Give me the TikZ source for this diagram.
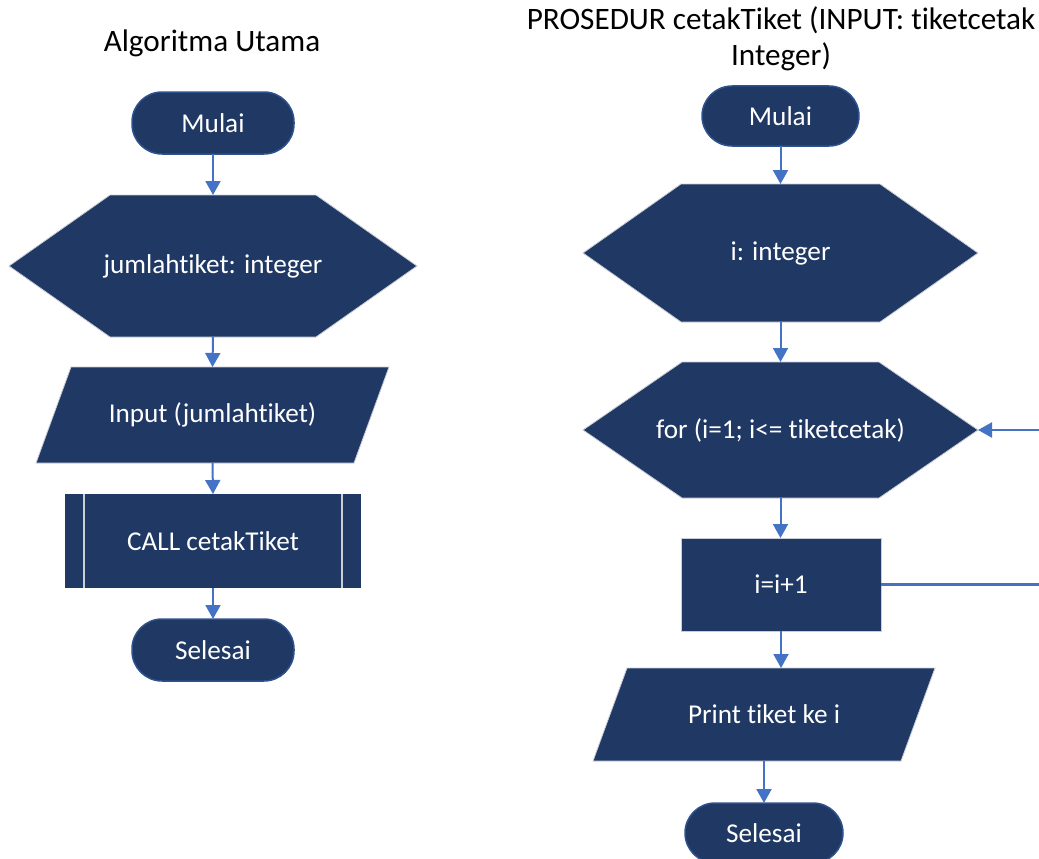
\documentclass[tikz,border=0pt]{standalone}
\usepackage{fontspec}
\setmainfont{Carlito}[Ligatures={NoCommon,NoRare,NoContextual}]
\usetikzlibrary{arrows.meta,calc}
\definecolor{navy}{HTML}{203864}
\definecolor{edgeblue}{HTML}{2F528F}
\definecolor{flowblue}{HTML}{4472C4}
\definecolor{rim}{HTML}{C9CDD6}
\pgfdeclarelayer{bg}
\pgfsetlayers{bg,main}
\tikzset{
  every node/.style={outer sep=0pt, inner sep=0pt},
  lbl/.style={text=white, font=\fontsize{27.2}{30}\selectfont},
  title/.style={text=black, font=\fontsize{31.2}{36}\selectfont, align=center},
  terminal/.style={lbl, fill=navy, draw=edgeblue, line width=1.5pt,
                   rounded corners=30pt, minimum width=#1},
  terminal/.default=162pt,
  box/.style n args={2}{lbl, minimum width=#1, minimum height=#2},
  shapefill/.style={fill=navy, draw=rim, line width=0.8pt},
  sidebar/.style={draw=rim, line width=1.6pt},
  flow/.style={draw=flowblue, line width=2pt, -{Triangle[length=14pt,width=15pt]}},
  loopline/.style={draw=flowblue, line width=2.2pt},
}
\begin{document}
\begin{tikzpicture}[x=1pt, y=-1pt]
  \clip (0,0) rectangle (1039,859);

  % ---------- titles ----------
  \node[title, anchor=base] (t1) at (212,52) {Algoritma Utama};
  \node[title, anchor=north] (t2) at (781,7) {PROSEDUR cetakTiket (INPUT: tiketcetak\\Integer)};

  % ---------- main algorithm ----------
  \node[terminal, minimum height=62pt] (start1) at (213,123) {Mulai};
  \node[box={408pt}{142pt}] (decl1) at (213,266) {jumlahtiket: integer};
  \node[box={353pt}{96pt}] (inp) at (212.5,415) {Input (jumlahtiket)};
  \node[box={296pt}{94pt}] (call) at (213,541) {CALL cetakTiket};
  \node[terminal, minimum height=62pt] (end1) at (213,650) {Selesai};

  % ---------- procedure ----------
  \node[terminal=157pt, minimum height=60pt] (start2) at (780.5,116) {Mulai};
  \node[box={395pt}{138pt}] (decl2) at (780.5,253) {i: integer};
  \node[box={395pt}{136pt}] (loop) at (780.5,430) {for (i=1; i<= tiketcetak)};
  \node[box={200pt}{93pt}] (inc) at (781,584.5) {i=i+1};
  \node[box={342pt}{93pt}] (prn) at (764,714.5) {Print tiket ke i};
  \node[terminal=158pt, minimum height=60pt] (end2) at (764,833) {Selesai};

  % ---------- shape bodies behind the labels ----------
  \begin{pgfonlayer}{bg}
    % preparation hexagons
    \filldraw[shapefill] (decl1.west) -- ([xshift=101pt]decl1.north west)
      -- ([xshift=-101pt]decl1.north east) -- (decl1.east)
      -- ([xshift=-101pt]decl1.south east) -- ([xshift=101pt]decl1.south west) -- cycle;
    \filldraw[shapefill] (decl2.west) -- ([xshift=98pt]decl2.north west)
      -- ([xshift=-98pt]decl2.north east) -- (decl2.east)
      -- ([xshift=-98pt]decl2.south east) -- ([xshift=98pt]decl2.south west) -- cycle;
    \filldraw[shapefill] (loop.west) -- ([xshift=99pt]loop.north west)
      -- ([xshift=-99pt]loop.north east) -- (loop.east)
      -- ([xshift=-99pt]loop.south east) -- ([xshift=99pt]loop.south west) -- cycle;
    % input / output parallelograms
    \filldraw[shapefill] (inp.south west) -- ([xshift=35pt]inp.north west)
      -- (inp.north east) -- ([xshift=-35pt]inp.south east) -- cycle;
    \filldraw[shapefill] (prn.south west) -- ([xshift=34pt]prn.north west)
      -- (prn.north east) -- ([xshift=-34pt]prn.south east) -- cycle;
    % predefined process
    \fill[navy] (call.south west) rectangle (call.north east);
    \draw[sidebar] ([xshift=19pt]call.north west) -- ([xshift=19pt]call.south west);
    \draw[sidebar] ([xshift=-19pt]call.north east) -- ([xshift=-19pt]call.south east);
    % process box
    \filldraw[shapefill] (inc.south west) rectangle (inc.north east);
  \end{pgfonlayer}

  % ---------- connectors ----------
  \draw[flow] (start1.south) -- (decl1.north);
  \draw[flow] (decl1.south) -- (inp.north);
  \draw[flow] (inp.south) -- (call.north);
  \draw[flow] (call.south) -- (end1.north);

  \draw[flow] (start2.south) -- (decl2.north);
  \draw[flow] (decl2.south) -- (loop.north);
  \draw[flow] (loop.south) -- (loop.south |- inc.north);
  \draw[flow] (inc.south) -- (inc.south |- prn.north);
  \draw[flow] (prn.south) -- (end2.north);

  % loop back to the for header
  \coordinate (back) at (1060,500);
  \draw[loopline] (inc.east) -- (inc.east -| back) -- (loop.east -| back);
  \draw[flow, line width=2.2pt] (loop.east -| back) -- (loop.east);
\end{tikzpicture}
\end{document}
